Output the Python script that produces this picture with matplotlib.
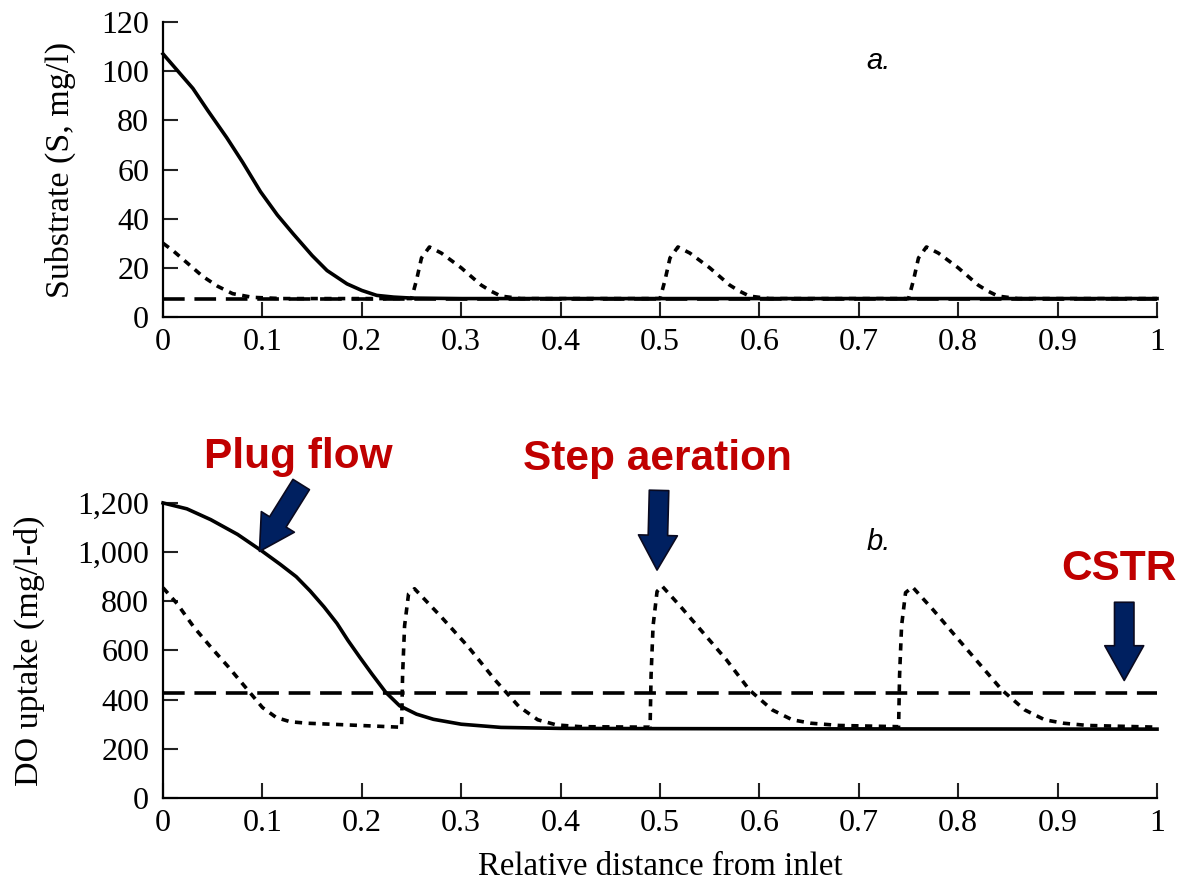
import matplotlib
matplotlib.use("Agg")
import matplotlib.pyplot as plt

# ---- data ------------------------------------------------------------------
# panel a: substrate (mg/l)
plug_x_a = [0, 0.015, 0.03, 0.045, 0.064, 0.08, 0.098, 0.115, 0.131, 0.15, 0.165, 0.175, 0.185, 0.20,
            0.215, 0.232, 0.25, 0.30, 0.40, 0.50, 0.60, 0.70, 0.80, 0.90, 1.0]
plug_s   = [107, 100, 93, 84, 73, 63, 51, 41.5, 33.8, 25, 18.9, 16.2, 13.5, 10.8,
            8.8, 8.1, 7.7, 7.5, 7.5, 7.5, 7.5, 7.5, 7.5, 7.5, 7.5]

cstr_x_a = [0, 1.0]
cstr_s   = [7.2, 7.2]

step_x_a = [0, 0.01, 0.02, 0.03, 0.04, 0.055, 0.07, 0.09, 0.12,
            0.25, 0.255, 0.26, 0.268, 0.28, 0.29, 0.30, 0.31, 0.32, 0.33, 0.34, 0.36,
            0.50, 0.505, 0.51, 0.518, 0.53, 0.54, 0.55, 0.56, 0.57, 0.58, 0.59, 0.61,
            0.75, 0.755, 0.76, 0.768, 0.78, 0.79, 0.80, 0.81, 0.82, 0.83, 0.84, 0.86, 1.0]
step_s   = [30, 27, 23.5, 20, 16.5, 12.5, 9.5, 8, 7.5,
            7.5, 15, 24, 28.5, 26, 23, 20, 16.5, 13, 10.5, 8.5, 7.5,
            7.5, 15, 24, 28.5, 26, 23, 20, 16.5, 13, 10.5, 8.5, 7.5,
            7.5, 15, 24, 28.5, 26, 23, 20, 16.5, 13, 10.5, 8.5, 7.5, 7.5]

# panel b: DO uptake (mg/l-d)
plug_x_b = [0, 0.024, 0.048, 0.075, 0.10, 0.118, 0.134, 0.148, 0.162, 0.175, 0.186, 0.198, 0.21, 0.224,
            0.238, 0.255, 0.272, 0.30, 0.34, 0.40, 0.50, 0.70, 1.0]
plug_do  = [1200, 1176, 1132, 1072, 1003, 950, 900, 842, 777, 710, 641, 572, 505, 430,
            375, 341, 320, 300, 287, 283, 282, 281, 280]

cstr_x_b = [0, 1.0]
cstr_do  = [425, 425]

step_x_b = [0, 0.014, 0.031, 0.048, 0.066, 0.083, 0.10, 0.114, 0.128, 0.145, 0.169, 0.238,
            0.240, 0.241, 0.243, 0.247, 0.253, 0.28, 0.307, 0.334, 0.358, 0.377, 0.396, 0.42, 0.489,
            0.490, 0.491, 0.493, 0.497, 0.502, 0.521, 0.544, 0.567, 0.59, 0.613, 0.633, 0.652, 0.68, 0.739,
            0.740, 0.741, 0.743, 0.747, 0.754, 0.775, 0.798, 0.821, 0.844, 0.867, 0.887, 0.906, 0.93, 1.0]
step_do  = [855, 791, 695, 614, 532, 450, 368, 327, 310, 304, 300, 288,
            288, 500, 700, 830, 851, 736, 615, 480, 372, 318, 297, 290, 288,
            288, 500, 700, 840, 862, 777, 669, 561, 439, 358, 318, 304, 295, 290,
            290, 500, 700, 835, 858, 764, 655, 547, 439, 358, 318, 304, 295, 288]

x_ticks = [0, 0.1, 0.2, 0.3, 0.4, 0.5, 0.6, 0.7, 0.8, 0.9, 1.0]
x_labels = ['0', '0.1', '0.2', '0.3', '0.4', '0.5', '0.6', '0.7', '0.8', '0.9', '1']
s_ticks = [0, 20, 40, 60, 80, 100, 120]
do_ticks = [0, 200, 400, 600, 800, 1000, 1200]

RED = '#C00000'
NAVY = '#002060'
SERIF = 'Liberation Serif'
SANS = 'Liberation Sans'

fig = plt.figure(figsize=(11.78, 8.90), dpi=100)
ax1 = fig.add_axes([0.1384, 0.6438, 0.8438, 0.3315])
ax2 = fig.add_axes([0.1384, 0.1034, 0.8438, 0.3315])

lw = 2.6
dash = (6, 2.7)
dot = (2.0, 1.8)
for ax in (ax1, ax2):
    ax.spines['top'].set_visible(False)
    ax.spines['right'].set_visible(False)
    ax.spines['left'].set_linewidth(1.6)
    ax.spines['bottom'].set_linewidth(1.6)
    ax.set_xlim(0, 1)
    ax.set_xticks(x_ticks)
    ax.set_xticklabels(x_labels, family=SERIF, fontsize=23)
    ax.tick_params(axis='both', direction='in', length=11, width=1.5, color='#222222')
    ax.tick_params(axis='x', pad=8)
    ax.tick_params(axis='y', pad=10)

# panel a
ax1.plot(plug_x_a, plug_s, color='black', lw=lw, clip_on=False)
ax1.plot(cstr_x_a, cstr_s, color='black', lw=lw, dashes=dash, clip_on=False)
ax1.plot(step_x_a, step_s, color='black', lw=lw, dashes=dot, clip_on=False)
ax1.set_ylim(0, 120)
ax1.set_yticks(s_ticks)
ax1.set_yticklabels([str(v) for v in s_ticks], family=SERIF, fontsize=23)
ax1.set_ylabel('Substrate (S, mg/l)', family=SERIF, fontsize=24.5)
ax1.yaxis.set_label_coords(-0.0875, 0.5)
ax1.text(0.72, 104, 'a.', family=SANS, style='italic', fontsize=21, ha='center', va='center')

# panel b
ax2.plot(plug_x_b, plug_do, color='black', lw=lw, clip_on=False)
ax2.plot(cstr_x_b, cstr_do, color='black', lw=lw, dashes=dash, clip_on=False)
ax2.plot(step_x_b, step_do, color='black', lw=lw, dashes=dot, clip_on=False)
ax2.set_ylim(0, 1200)
ax2.set_yticks(do_ticks)
ax2.set_yticklabels([f'{v:,}' for v in do_ticks], family=SERIF, fontsize=23)
ax2.set_ylabel('DO uptake (mg/l-d)', family=SERIF, fontsize=24.5)
ax2.yaxis.set_label_coords(-0.1187, 0.5)
ax2.set_xlabel('Relative distance from inlet', family=SERIF, fontsize=23.7)
ax2.xaxis.set_label_coords(0.5, -0.183)
ax2.text(0.72, 1040, 'b.', family=SANS, style='italic', fontsize=21, ha='center', va='center')

# annotations
arrow = dict(facecolor=NAVY, edgecolor='#0a0a20', lw=1.2, width=14, headwidth=28, headlength=25, shrink=0)
ax2.annotate('', xy=(0.097, 1003), xytext=(0.139, 1275), arrowprops=arrow, annotation_clip=False)
ax2.annotate('', xy=(0.497, 927), xytext=(0.499, 1251), arrowprops=arrow, annotation_clip=False)
ax2.annotate('', xy=(0.967, 478), xytext=(0.967, 796), arrowprops=arrow, annotation_clip=False)

lab = dict(family=SANS, fontweight='bold', fontsize=30.5, color=RED, ha='center', va='baseline', clip_on=False)
ax2.text(0.136, 1343, 'Plug flow', **lab)
ax2.text(0.497, 1335, 'Step aeration', **lab)
ax2.text(0.962, 886, 'CSTR', **lab)

fig.savefig('out.png', dpi=100)
